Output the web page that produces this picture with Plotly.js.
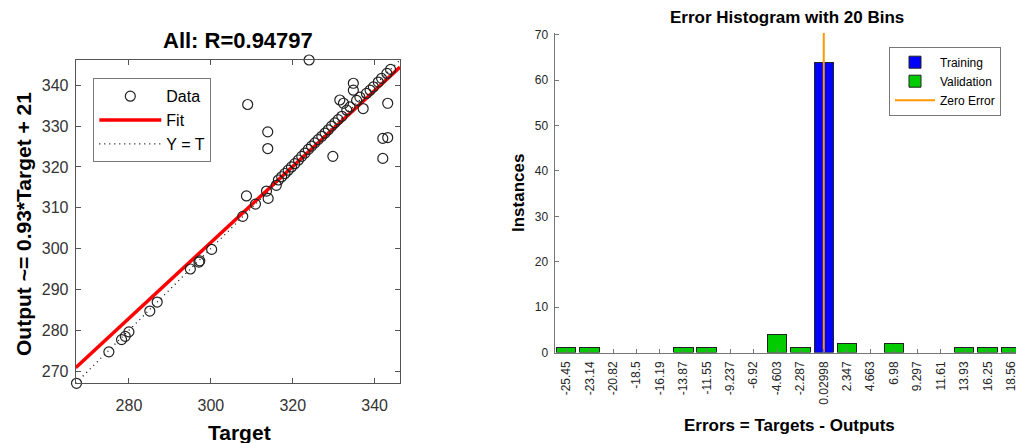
<!DOCTYPE html>
<html><head><meta charset="utf-8">
<script src="https://cdn.plot.ly/plotly-3.0.1.min.js"></script>
<style>html,body{margin:0;padding:0;overflow:hidden;background:#fff}#chart{width:1024px;height:443px}</style>
</head><body><div id="chart"></div>
<script>
// ---------- Regression plot data (All) ----------
const targets = [267.2, 275.1, 278.2, 279.1, 280.0, 285.1, 286.9, 295.0, 297.1, 297.3, 300.2,
  307.8, 308.7, 309.0, 310.9, 313.6, 313.9, 313.9, 314.0, 316.0, 324.0, 329.8,
  342.0, 342.0, 343.2, 343.2, 331.5, 332.4, 334.8, 334.8, 337.2,
  338.0, 338.9, 339.7, 340.9, 341.7, 343.0, 343.9,
  316.5, 317.3, 318.1, 318.9, 319.7, 320.5, 321.4, 322.2, 323.0, 323.8, 324.6, 325.4,
  326.2, 327.1, 327.9, 328.7, 329.5, 330.3, 331.1, 332.0, 333.2, 334.0, 335.6, 336.4];
const outputs = [267.0, 274.7, 277.7, 278.5, 279.6, 284.7, 286.9, 295.0, 296.7, 297.0, 299.8,
  307.9, 312.9, 335.3, 310.9, 314.1, 328.6, 324.5, 312.3, 315.5, 346.2, 322.6,
  322.1, 327.0, 327.2, 335.6, 336.4, 335.6, 340.5, 338.8, 334.3,
  338.0, 338.8, 339.6, 340.8, 341.7, 342.9, 343.9,
  316.8, 317.6, 318.4, 319.2, 320.0, 320.8, 321.7, 322.6, 323.4, 324.3, 325.1, 325.9,
  326.7, 327.5, 328.3, 329.1, 330.0, 330.8, 331.6, 332.4, 333.9, 334.7, 336.3, 337.1];
const fitSlope = 0.93;
const fitIntercept = 22.5;
const axisLimits = [267.0, 346.2];
const regTicks = [270, 280, 290, 300, 310, 320, 330, 340];

// ---------- Error histogram data ----------
const binLabels = ["-25.45", "-23.14", "-20.82", "-18.5", "-16.19", "-13.87", "-11.55", "-9.237", "-6.92", "-4.603",
  "-2.287", "0.02998", "2.347", "4.663", "6.98", "9.297", "11.61", "13.93", "16.25", "18.56"];
const trainingCounts   = [0, 0, 0, 0, 0, 0, 0, 0, 0, 0, 0, 64, 0, 0, 0, 0, 0, 0, 0, 0];
const validationCounts = [1, 1, 0, 0, 0, 1, 1, 0, 0, 4, 1, 0, 2, 0, 2, 0, 0, 1, 1, 1];
const zeroErrorBin = "0.02998";
const histYMax = 70.4;

const FONT = "Liberation Sans, Arial, Helvetica, sans-serif";
const W = 1024, H = 443;
const px = v => v / W, py = v => (H - v) / H;
const hideEmpty = arr => arr.map(v => (v === 0 ? null : v));

const traces = [
  { x: axisLimits, y: axisLimits, mode: "lines", name: "Y = T", xaxis: "x", yaxis: "y",
    line: { color: "#000", width: 1.2, dash: "1px,4px" }, legend: "legend", legendrank: 3 },
  { x: axisLimits, y: axisLimits.map(t => fitSlope * t + fitIntercept), mode: "lines", name: "Fit",
    xaxis: "x", yaxis: "y", line: { color: "#ff0000", width: 3.5 }, legend: "legend", legendrank: 2 },
  { x: targets, y: outputs, mode: "markers", name: "Data", xaxis: "x", yaxis: "y",
    marker: { symbol: "circle-open", size: 10, color: "#222", line: { width: 1.2 } },
    legend: "legend", legendrank: 1, cliponaxis: false },
  { type: "bar", x: binLabels, y: hideEmpty(trainingCounts), name: "Training", xaxis: "x2", yaxis: "y2",
    marker: { color: "#0000ff", line: { color: "#222", width: 1 } }, legend: "legend2", legendrank: 1 },
  { type: "bar", x: binLabels, y: hideEmpty(validationCounts), name: "Validation", xaxis: "x2", yaxis: "y2",
    marker: { color: "#00cc00", line: { color: "#222", width: 1 } }, legend: "legend2", legendrank: 2 },
  { x: [zeroErrorBin, zeroErrorBin], y: [0, histYMax], mode: "lines", name: "Zero Error", xaxis: "x2", yaxis: "y2",
    line: { color: "#ff9900", width: 2 }, legend: "legend2", legendrank: 3 }
];

const ann = (text, x, y, size, extra) => Object.assign({ text: "<b>" + text + "</b>", x: px(x), y: py(y),
  xref: "paper", yref: "paper", showarrow: false, xanchor: "center", yanchor: "middle",
  font: { family: FONT, size: size, color: "#000" } }, extra || {});

const layout = {
  width: W, height: H, margin: { l: 0, r: 0, t: 0, b: 0 },
  paper_bgcolor: "#fff", plot_bgcolor: "#fff", showlegend: true, barmode: "stack", bargap: 0.17,
  font: { family: FONT, color: "#262626" },
  xaxis: { domain: [px(75.7), px(400)], range: axisLimits, tickvals: [280, 300, 320, 340],
    ticks: "inside", ticklen: 5, tickcolor: "#555", showline: true, linecolor: "#555", linewidth: 1,
    mirror: "allticks", showgrid: false, zeroline: false, anchor: "y", ticklabelstandoff: 7,
    tickfont: { family: FONT, size: 16, color: "#333" } },
  yaxis: { domain: [py(383.3), py(60)], range: axisLimits, tickvals: regTicks,
    ticks: "inside", ticklen: 5, tickcolor: "#555", showline: true, linecolor: "#555", linewidth: 1,
    mirror: "allticks", showgrid: false, zeroline: false, anchor: "x", ticklabelstandoff: 3,
    tickfont: { family: FONT, size: 16, color: "#333" } },
  xaxis2: { domain: [px(554.5), px(1022.8)], type: "category", range: [-0.5, 19.5], categoryorder: "array",
    categoryarray: binLabels, tickangle: -90, ticks: "inside", ticklen: 4, tickcolor: "#777",
    showline: true, linecolor: "#777", linewidth: 1, showgrid: false, zeroline: false, anchor: "y2",
    ticklabelstandoff: 3, tickfont: { family: FONT, size: 12, color: "#262626" } },
  yaxis2: { domain: [py(352.5), py(33)], range: [0, histYMax], tickvals: [0, 10, 20, 30, 40, 50, 60, 70],
    ticks: "inside", ticklen: 4, tickcolor: "#777", showline: true, linecolor: "#777", linewidth: 1,
    showgrid: false, zeroline: false, anchor: "x2", ticklabelstandoff: 3,
    tickfont: { family: FONT, size: 12, color: "#262626" } },
  legend: { x: px(93.3), y: py(78.3), xanchor: "left", yanchor: "top", bgcolor: "#fff",
    bordercolor: "#777", borderwidth: 1, itemwidth: 62, tracegroupgap: 0, traceorder: "normal",
    font: { family: FONT, size: 16, color: "#000" } },
  legend2: { x: px(889), y: py(46.7), xanchor: "left", yanchor: "top", bgcolor: "#fff",
    bordercolor: "#777", borderwidth: 1, itemwidth: 40, tracegroupgap: 0, traceorder: "normal",
    font: { family: FONT, size: 12, color: "#000" } },
  annotations: [
    ann("All: R=0.94797", 238, 41, 22),
    ann("Target", 239, 432, 21),
    ann("Output ~= 0.93*Target + 21", 23, 224, 21, { textangle: -90 }),
    ann("Error Histogram with 20 Bins", 787, 18, 17),
    ann("Errors = Targets - Outputs", 789, 425, 17),
    ann("Instances", 519, 193, 17, { textangle: -90 })
  ]
};

Plotly.newPlot("chart", traces, layout, { displayModeBar: false, staticPlot: true });
</script>
</body></html>
